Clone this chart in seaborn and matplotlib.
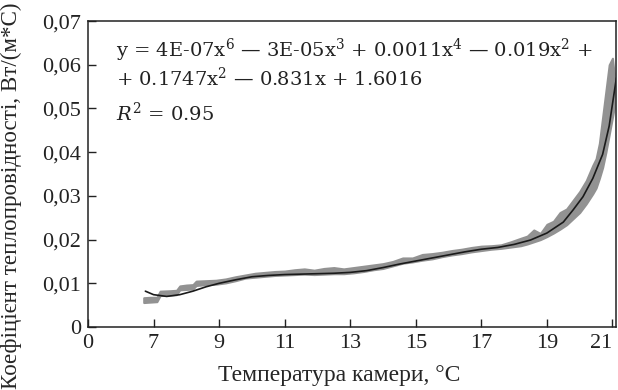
# -*- coding: utf-8 -*-
import numpy as np
import matplotlib
matplotlib.use("Agg")
import matplotlib.pyplot as plt
import seaborn as sns

# Дані
# Апроксимуюча крива (поліном)
fit_x = [6.75, 7.0, 7.4, 7.8, 8.2, 8.6, 9.0, 9.5, 10.0, 10.5, 11.0, 11.5, 12.0, 12.5,
         13.0, 13.5, 14.0, 14.5, 15.0, 15.5, 16.0, 16.5, 17.0, 17.5, 18.0, 18.5,
         19.0, 19.5, 19.8, 20.1, 20.4, 20.7, 20.9, 21.12]
fit_y = [0.0082, 0.0074, 0.0070, 0.0074, 0.0082, 0.0092, 0.0100, 0.0108, 0.0115, 0.0118,
         0.0120, 0.0121, 0.0122, 0.0123, 0.0125, 0.0129, 0.0136, 0.0144, 0.0151, 0.0158,
         0.0165, 0.0172, 0.0178, 0.0182, 0.0189, 0.0199, 0.0215, 0.0240, 0.0268, 0.0298,
         0.0340, 0.0395, 0.0460, 0.0570]

# Виміряні дані (сіра смуга): нижня та верхня межі
meas_x = [6.7, 6.9, 7.1, 7.2, 7.5, 7.7, 7.8, 8.0, 8.2, 8.3, 8.6, 8.9, 9.2, 9.5, 9.8,
          10.1, 10.4, 10.7, 11.0, 11.3, 11.6, 11.9, 12.2, 12.5, 12.8, 13.1, 13.4,
          13.7, 14.0, 14.3, 14.6, 14.9, 15.2, 15.5, 15.8, 16.1, 16.4, 16.7, 17.0,
          17.3, 17.6, 17.9, 18.2, 18.4, 18.6, 18.8, 19.0, 19.2, 19.4, 19.6, 19.8,
          20.0, 20.2, 20.4, 20.5, 20.6, 20.7, 20.8, 20.9, 21.0, 21.05]
meas_lo = [0.0056, 0.0057, 0.0058, 0.0072, 0.0073, 0.0074, 0.0085, 0.0086, 0.0087, 0.0095,
           0.0097, 0.0098, 0.0101, 0.0106, 0.0112, 0.0114, 0.0116, 0.0118, 0.0119, 0.0120,
           0.0121, 0.0120, 0.0121, 0.0122, 0.0122, 0.0124, 0.0127, 0.0131, 0.0134, 0.0140,
           0.0146, 0.0149, 0.0153, 0.0156, 0.0161, 0.0165, 0.0168, 0.0172, 0.0175, 0.0178,
           0.0180, 0.0183, 0.0186, 0.0190, 0.0195, 0.0200, 0.0207, 0.0215, 0.0224, 0.0234,
           0.0248, 0.0262, 0.0282, 0.0305, 0.0318, 0.0340, 0.0365, 0.0400, 0.0440, 0.0480,
           0.0500]
meas_hi = [0.0067, 0.0068, 0.0068, 0.0082, 0.0083, 0.0084, 0.0094, 0.0096, 0.0097, 0.0105,
           0.0106, 0.0107, 0.0110, 0.0115, 0.0119, 0.0123, 0.0125, 0.0127, 0.0128, 0.0131,
           0.0133, 0.0130, 0.0134, 0.0136, 0.0133, 0.0136, 0.0139, 0.0142, 0.0145, 0.0150,
           0.0158, 0.0158, 0.0166, 0.0168, 0.0171, 0.0175, 0.0178, 0.0182, 0.0185, 0.0186,
           0.0188, 0.0195, 0.0203, 0.0208, 0.0222, 0.0214, 0.0235, 0.0242, 0.0262, 0.0270,
           0.0290, 0.0310, 0.0335, 0.0370, 0.0385, 0.0420, 0.0480, 0.0540, 0.0600, 0.0615,
           0.0580]

x_ticks = [5, 7, 9, 11, 13, 15, 17, 19, 21]
x_tick_labels = ["0", "7", "9", "11", "13", "15", "17", "19", "21"]
y_ticks = [0, 0.01, 0.02, 0.03, 0.04, 0.05, 0.06, 0.07]
y_tick_labels = ["0", "0,01", "0,02", "0,03", "0,04", "0,05", "0,06", "0,07"]

sns.set_style("ticks")
plt.rcParams["font.family"] = ["Liberation Serif", "DejaVu Serif"]
plt.rcParams["mathtext.fontset"] = "dejavuserif"

fig = plt.figure(figsize=(6.18, 3.90), dpi=100)
ax = fig.add_axes([0.1424, 0.1615, 0.855, 0.7845])

# Сіра смуга вимірів
ax.fill_between(meas_x, meas_lo, meas_hi, color="#929292", edgecolor="#929292", linewidth=1.5)
# Поліноміальна лінія тренду
sns.lineplot(x=fit_x, y=fit_y, sort=False, estimator=None, color="#1a1a1a", linewidth=1.2, ax=ax)

ax.set_xlim(5, 21.12)
ax.set_ylim(0, 0.07)
ax.set_xticks(x_ticks)
ax.set_xticklabels(x_tick_labels)
ax.set_yticks(y_ticks)
ax.set_yticklabels(y_tick_labels)
ax.tick_params(direction="in", length=6, width=1.0, labelsize=16, colors="#222222", pad=5)
ax.get_xticklabels()[-1].set_horizontalalignment("right")

for s in ax.spines.values():
    s.set_linewidth(1.1)
    s.set_color("#222222")

ax.set_xlabel("Температура камери, °C", fontsize=17)
ax.xaxis.set_label_coords(0.475, -0.125)
ax.set_ylabel("Коефіцієнт теплопровідності, Вт/(м*С)", fontsize=16.6)
ax.yaxis.set_label_coords(-0.125, 0.43)

eq_font = dict(transform=ax.transAxes, fontsize=14, va="center", ha="left",
               color="#222222", family="DejaVu Serif")
ax.text(0.053, 0.905, "y = 4E-07x$^6$ — 3E-05x$^3$ + 0.0011x$^4$ — 0.019x$^2$ +", **eq_font)
ax.text(0.053, 0.814, "+ 0.1747x$^2$ — 0.831x + 1.6016", **eq_font)
ax.text(0.053, 0.70, "$R^2$ = 0.95", **eq_font)

plt.savefig("out.png", dpi=100)
